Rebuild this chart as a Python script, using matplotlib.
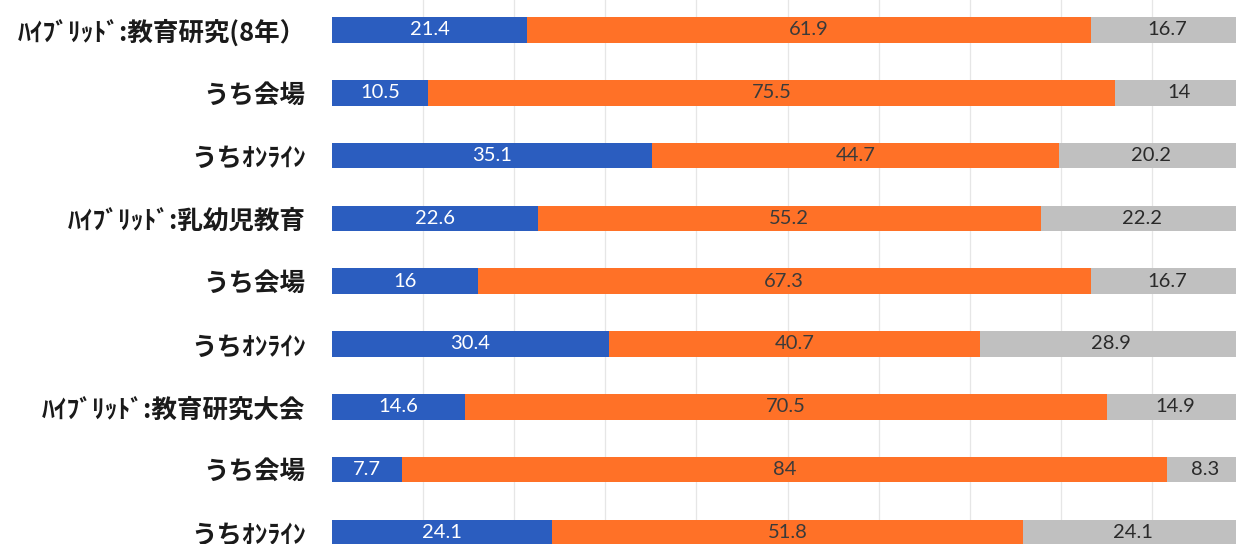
import matplotlib
matplotlib.use('Agg')
import matplotlib.pyplot as plt
import numpy as np

# 項目ラベル（上から順）
labels = ['ﾊｲﾌﾞﾘｯﾄﾞ:教育研究(8年）', 'うち会場', 'うちｵﾝﾗｲﾝ',
          'ﾊｲﾌﾞﾘｯﾄﾞ:乳幼児教育', 'うち会場', 'うちｵﾝﾗｲﾝ',
          'ﾊｲﾌﾞﾘｯﾄﾞ:教育研究大会', 'うち会場', 'うちｵﾝﾗｲﾝ']

# 3系列の割合(%)
blue_vals = [21.4, 10.5, 35.1, 22.6, 16, 30.4, 14.6, 7.7, 24.1]
orange_vals = [61.9, 75.5, 44.7, 55.2, 67.3, 40.7, 70.5, 84, 51.8]
gray_vals = [16.7, 14, 20.2, 22.2, 16.7, 28.9, 14.9, 8.3, 24.1]

colors = ['#2B5DBF', '#FF7127', '#C0C0C0']
text_colors = ['white', '#3a3a3a', '#2a2a2a']

W, H = 1236, 544
fig = plt.figure(figsize=(W / 100, H / 100), dpi=100)
# 元画像は右端と下端が切れているので、軸を図の外まで伸ばす
ax = fig.add_axes([332 / W, -19.8 / H, 911 / W, 565.2 / H])

y = np.arange(len(labels))
left = np.zeros(len(labels))
for vals, c, tc in zip([blue_vals, orange_vals, gray_vals], colors, text_colors):
    vals = np.array(vals, dtype=float)
    bars = ax.barh(y, vals, left=left, height=0.41, color=c, zorder=3)
    ax.bar_label(bars, labels=[f'{v:g}' for v in vals], label_type='center',
                 color=tc, fontsize=14.5, family=['Lato', 'DejaVu Sans'])
    left += vals

ax.set_xlim(0, 100)
ax.set_ylim(len(labels) - 0.5, -0.5)
ax.set_xticks(np.arange(10, 100, 10))
ax.grid(axis='x', color='#e6e6e6', linewidth=0.9, zorder=0)
ax.tick_params(axis='x', length=0, labelbottom=False)
ax.tick_params(axis='y', length=0, pad=19)
ax.set_yticks(y)
ax.set_yticklabels(labels, family=['Noto Sans CJK JP', 'DejaVu Sans'],
                   fontsize=18.4, fontweight='bold', color='#1a1a1a')
for s in ax.spines.values():
    s.set_visible(False)

fig.savefig('out.png', dpi=100)
